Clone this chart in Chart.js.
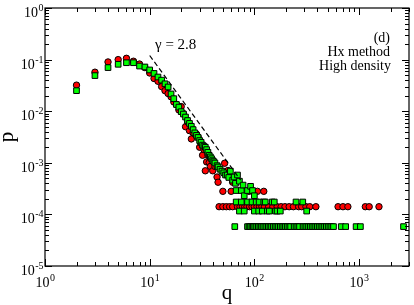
<!DOCTYPE html>
<html>
<head>
<meta charset="utf-8">
<script src="https://cdn.jsdelivr.net/npm/chart.js@4/dist/chart.umd.min.js"></script>
<style>
  html, body { margin: 0; padding: 0; background: #fff; }
  #wrap { width: 414px; height: 305px; }
</style>
</head>
<body>
<div id="wrap"><canvas id="chart" width="414" height="305"></canvas></div>
<script>
// red circles: main part of the distribution
const redQ = [2, 3, 4, 5, 6, 7, 8, 9, 10, 11, 12, 13, 14, 15, 16, 17, 18, 19, 20, 21, 22, 23, 24, 25, 26, 28, 29, 30, 31, 32, 33, 34, 35, 36, 37, 38, 40, 42, 44, 45, 50, 52, 56, 60, 62, 89, 107, 123]
const redP = [0.032, 0.057, 0.090, 0.100, 0.106, 0.093, 0.082, 0.070, 0.055, 0.043, 0.038, 0.030, 0.025, 0.022, 0.019, 0.0151, 0.0135, 0.0106, 0.0123, 0.0090, 0.0050, 0.0062, 0.0042, 0.0029, 0.0038, 0.0036, 0.0032, 0.0020, 0.0024, 0.0014, 0.0018, 0.00070, 0.00104, 0.00141, 0.00101, 0.00085, 0.00070, 0.00085, 0.00053, 0.00042, 0.00028, 0.00098, 0.00071, 0.00028, 0.00042, 0.00028, 0.00028, 0.00028]
// red circles seen once (flat row)
const redOnceP = 0.000141
const redOnceQ = [46, 50, 54, 58, 62, 69, 73, 77, 81, 85, 90, 95, 100, 106, 112, 118, 125, 137, 150, 165, 180, 196, 215, 236, 265, 283, 311, 338, 387, 630, 702, 782, 1148, 1250, 1550]

// green squares: main part
const greenQ = [2, 3, 4, 5, 6, 7, 8, 9, 10, 11, 12, 13, 14, 15, 16, 17, 18, 19, 20, 21, 22, 23, 24, 25, 26, 27, 28, 29, 30, 31, 32, 33, 34, 35, 36, 37, 38, 39, 40, 41, 42, 44, 45, 47, 49, 51, 53, 55, 57, 59, 62, 64, 66, 67, 69, 72, 75, 78, 80, 86, 92, 96, 100]
const greenP = [0.025, 0.049, 0.070, 0.081, 0.087, 0.087, 0.075, 0.072, 0.063, 0.054, 0.046, 0.040, 0.034, 0.0295, 0.0216, 0.0175, 0.0135, 0.0120, 0.0098, 0.0088, 0.0077, 0.0066, 0.0058, 0.0051, 0.0044, 0.0038, 0.0034, 0.0031, 0.0027, 0.0025, 0.0022, 0.0021, 0.0020, 0.0018, 0.0016, 0.0014, 0.0013, 0.0012, 0.0011, 0.00105, 0.00099, 0.00088, 0.00083, 0.00075, 0.00069, 0.00064, 0.00058, 0.00058, 0.00052, 0.00069, 0.00046, 0.00053, 0.00040, 0.00029, 0.00058, 0.00044, 0.00029, 0.00037, 0.00023, 0.00029, 0.00035, 0.00029, 0.00023]
// green squares seen three times and twice
const greenThriceP = 0.000174
const greenThriceQ = [67, 75, 86, 95, 104, 111, 123, 127, 148, 155, 250, 290]
const greenTwiceP = 0.000116
const greenTwiceQ = [72, 80, 100, 110, 119, 133, 139, 159, 165, 177, 316]
// green squares seen once (flat row)
const greenOnceP = 0.000058
const greenOnceQ = [65, 86, 89, 92, 95, 98, 101, 105, 109, 113, 117, 121, 126, 131, 136, 141, 146, 152, 158, 164, 170, 177, 184, 191, 198, 206, 214, 222, 240, 250, 260, 270, 292, 304, 316, 329, 342, 356, 370, 385, 400, 416, 433, 450, 468, 487, 507, 527, 548, 570, 676, 745, 937, 1030, 2660]

// dashed guide, gamma = 2.8
const fitQ = [10, 74]
const fitP = [0.12, 0.00046]

const xDecades = [0, 1, 2, 3]
const yDecades = [0, -1, -2, -3, -4, -5]

const toPts = (qs, ps) => qs.map((q, i) => ({ x: q, y: Array.isArray(ps) ? ps[i] : ps }))

const redData = toPts(redQ, redP).concat(toPts(redOnceQ, redOnceP))
const greenData = toPts(greenQ, greenP)
  .concat(toPts(greenThriceQ, greenThriceP))
  .concat(toPts(greenTwiceQ, greenTwiceP))
  .concat(toPts(greenOnceQ, greenOnceP))

const SERIF = '"Liberation Serif", "Times New Roman", serif'

function powLabel(ctx, exp, x, y, align) {
  ctx.font = '14px ' + SERIF
  const wb = ctx.measureText('10').width
  ctx.font = '10px ' + SERIF
  const we = ctx.measureText(exp).width
  let left = align === 'center' ? x - (wb + we) / 2 : x - wb - we
  ctx.font = '14px ' + SERIF
  ctx.fillText('10', left, y)
  ctx.font = '10px ' + SERIF
  ctx.fillText(exp, left + wb + 0.5, y - 6)
}

const framePlugin = {
  id: 'frame',
  afterDatasetsDraw(chart) {
    const { ctx, chartArea: a, scales } = chart
    const xs = scales.x, ys = scales.y
    ctx.save()
    ctx.strokeStyle = '#000'
    ctx.lineWidth = 1
    ctx.beginPath()
    // x ticks, bottom and top, pointing inward
    xDecades.forEach(d => {
      for (let m = 1; m <= 9; m++) {
        const v = m * Math.pow(10, d)
        if (v > xs.max) break
        const px = Math.round(xs.getPixelForValue(v)) + 0.5
        const len = m === 1 ? 7 : 4
        ctx.moveTo(px, a.bottom); ctx.lineTo(px, a.bottom - len)
        ctx.moveTo(px, a.top); ctx.lineTo(px, a.top + len)
      }
    })
    // y ticks, left and right
    yDecades.forEach(d => {
      for (let m = 1; m <= 9; m++) {
        const v = m * Math.pow(10, d)
        if (v > ys.max) break
        const py = Math.round(ys.getPixelForValue(v)) + 0.5
        const len = m === 1 ? 7 : 4
        ctx.moveTo(a.left, py); ctx.lineTo(a.left + len, py)
        ctx.moveTo(a.right, py); ctx.lineTo(a.right - len, py)
      }
    })
    ctx.stroke()
    ctx.lineWidth = 1.2
    ctx.strokeRect(a.left, a.top, a.right - a.left, a.bottom - a.top)

    // tick labels
    ctx.fillStyle = '#000'
    ctx.textBaseline = 'alphabetic'
    ctx.textAlign = 'left'
    xDecades.forEach(d => {
      powLabel(ctx, String(d), xs.getPixelForValue(Math.pow(10, d)), a.bottom + 21, 'center')
    })
    yDecades.forEach(d => {
      powLabel(ctx, String(d), 43, ys.getPixelForValue(Math.pow(10, d)) + 9, 'right')
    })

    // axis titles
    ctx.font = '21px ' + SERIF
    ctx.textAlign = 'center'
    ctx.fillText('q', (a.left + a.right) / 2, 299)
    ctx.save()
    ctx.translate(13, (a.top + a.bottom) / 2)
    ctx.rotate(-Math.PI / 2)
    ctx.fillText('p', 0, 0)
    ctx.restore()

    // annotations
    ctx.font = '15px ' + SERIF
    ctx.textAlign = 'left'
    ctx.fillText('\u03b3 = 2.8', 155, 49)
    ctx.font = '14px ' + SERIF
    ctx.textAlign = 'right'
    ctx.fillText('(d)', 390, 42)
    ctx.fillText('Hx method', 390, 56)
    ctx.fillText('High density', 391, 70)
    ctx.restore()
  }
}

new Chart(document.getElementById('chart'), {
  type: 'scatter',
  data: {
    datasets: [
      {
        type: 'line',
        data: toPts(fitQ, fitP),
        borderColor: '#000',
        borderWidth: 1.2,
        borderDash: [5, 3],
        pointRadius: 0,
        fill: false,
        order: 0
      },
      {
        data: greenData,
        pointStyle: 'rect',
        pointRadius: 4,
        backgroundColor: '#00ff00',
        borderColor: '#000',
        borderWidth: 1,
        order: 1
      },
      {
        data: redData,
        pointStyle: 'circle',
        pointRadius: 3.2,
        backgroundColor: '#ff0000',
        borderColor: '#000',
        borderWidth: 1,
        order: 2
      }
    ]
  },
  options: {
    responsive: false,
    animation: false,
    layout: { padding: { left: 45, right: 1, top: 8, bottom: 39 } },
    plugins: { legend: { display: false }, tooltip: { enabled: false } },
    scales: {
      x: { type: 'logarithmic', min: 1, max: 3000, display: false },
      y: { type: 'logarithmic', min: 1e-5, max: 1, display: false }
    }
  },
  plugins: [framePlugin]
})
</script>
</body>
</html>
